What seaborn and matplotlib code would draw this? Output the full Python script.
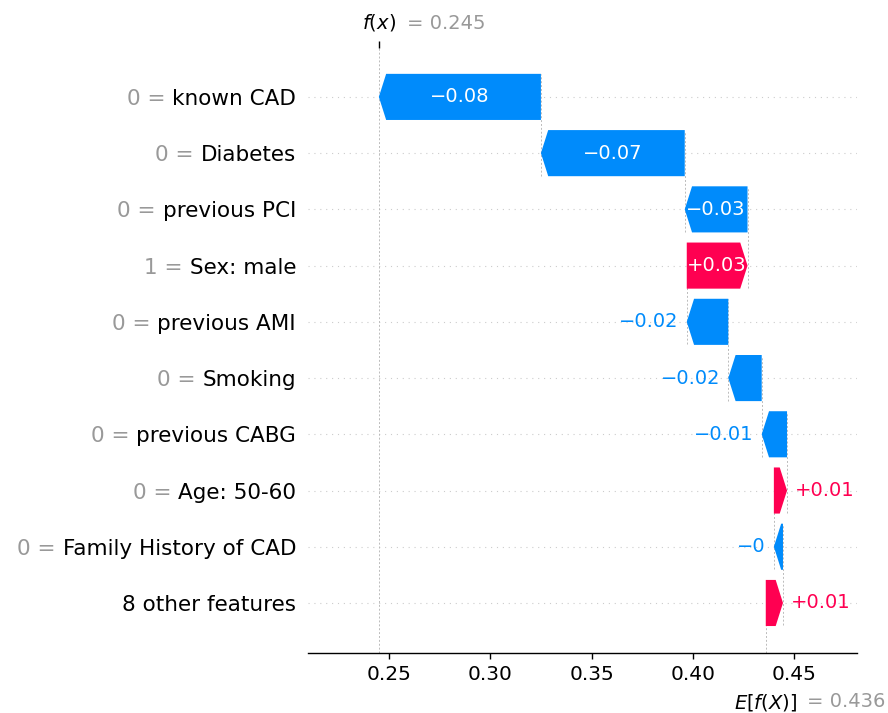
import matplotlib
matplotlib.use("Agg")
import matplotlib.pyplot as plt
import numpy as np
import seaborn as sns

# %% data (top row first)
features = [
    "known CAD",
    "Diabetes",
    "previous PCI",
    "Sex: male",
    "previous AMI",
    "Smoking",
    "previous CABG",
    "Age: 50-60",
    "Family History of CAD",
    "8 other features",
]
feature_values = ["0", "0", "0", "1", "0", "0", "0", "0", "0", None]
shap_values = [-0.080, -0.071, -0.031, 0.030, -0.0205, -0.0165, -0.0125, 0.0065, -0.0045, 0.0085]
base_value = 0.436
xticks = [0.25, 0.30, 0.35, 0.40, 0.45]

blue = "#008bfb"
red = "#ff0051"
gray = "#999999"


def fmt(v):
    s = "%+0.02f" % v
    s = s.rstrip("0").rstrip(".")
    return s.replace("-", "\u2212")


# %% plot
sns.set_theme(style="white", font="DejaVu Sans")

fig = plt.figure(figsize=(8.88, 7.13), dpi=100)
ax = fig.add_axes([0.3468, 0.0842, 0.965 - 0.3468, 0.9327 - 0.0842])
ax.set_xlim(0.210, 0.481)
ax.set_ylim(-0.889, 9.87)

n = len(features)
vals = np.array(shap_values)
rows = np.arange(n)[::-1]
starts = np.array([base_value + vals[i + 1:].sum() for i in range(n)])
fx = base_value + vals.sum()

# head length in data units
ax_w_in = ax.get_window_extent().width / fig.dpi
xlen = ax.get_xlim()[1] - ax.get_xlim()[0]
to_data = xlen / ax_w_in
hl = 0.073 * to_data
bar_w = 0.82

# row guide lines
for y in rows:
    ax.axhline(y, color="#cccccc", lw=0.8, dashes=(1, 4.3), zorder=-1)

# connector lines
for i in range(n - 1):
    ax.plot([starts[i], starts[i]], [rows[i + 1] - 0.4, rows[i] + 0.4],
            color="#bbbbbb", lw=0.7, linestyle=(0, (2, 2)), zorder=-1)
ax.plot([base_value, base_value], [ax.get_ylim()[0], rows[-1] + 0.4],
        color="#bbbbbb", lw=0.7, linestyle=(0, (2, 2)), zorder=-1)
ax.axvline(fx, 0, 1, color="#bbbbbb", lw=0.7, linestyle=(0, (2, 2)), zorder=-1)

renderer = fig.canvas.get_renderer()
for i, v in enumerate(vals):
    y = rows[i]
    dist = abs(v)
    color = red if v > 0 else blue
    sgn = 1 if v > 0 else -1
    arr = ax.arrow(starts[i], y, sgn * max(dist - hl, 1e-6), 0,
                   head_length=min(dist, hl), width=bar_w, head_width=bar_w,
                   color=color, linewidth=0, zorder=2)
    txt = ax.text(starts[i] + v / 2, y, fmt(v), ha="center", va="center",
                  color="white", fontsize=14, zorder=3)
    if txt.get_window_extent(renderer).width > arr.get_window_extent(renderer).width:
        txt.remove()
        tip = starts[i] + v
        ax.annotate(fmt(v), xy=(tip, y), xytext=(6 * sgn, 0), textcoords="offset points",
                    ha="left" if v > 0 else "right", va="center",
                    color=color, fontsize=14)

# x axis
ax.set_xticks(xticks)
ax.set_xticklabels(["%.2f" % t for t in xticks])
ax.tick_params(axis="x", bottom=True, length=4.5, width=1, color="black",
               labelsize=14.5, labelcolor="black", pad=4)

for s in ["top", "right", "left"]:
    ax.spines[s].set_visible(False)
ax.spines["bottom"].set_color("black")
ax.spines["bottom"].set_linewidth(1)

# f(x) tick at the top
ax3 = ax.twiny()
ax3.set_xlim(ax.get_xlim())
ax3.set_xticks([fx])
ax3.set_xticklabels([""])
ax3.tick_params(axis="x", top=True, bottom=False, length=5, width=1, color="black")
ax3.tick_params(axis="y", left=False, right=False, labelleft=False, labelright=False)
for s in ax3.spines.values():
    s.set_visible(False)

# y labels: black feature names, gray "value =" just left of them
label_size = 15.5
ax.set_yticks(rows)
ax.set_yticklabels(features)
ax.tick_params(axis="y", left=True, length=0, pad=8.6, labelsize=label_size,
               labelleft=True, labelcolor="black")
fig.canvas.draw()
inv = fig.transFigure.inverted()
for lab, fv, y in zip(ax.get_yticklabels(), feature_values, rows):
    if fv is None:
        continue
    x0 = inv.transform(lab.get_window_extent(renderer))[0][0]
    ax.annotate(f"{fv} =", xy=(x0, y), xycoords=(fig.transFigure, "data"),
                xytext=(-0.318 * label_size, 0), textcoords="offset points",
                ha="right", va="center_baseline", fontsize=label_size, color=gray,
                annotation_clip=False)

ax.annotate("$f(x)$", xy=(fx, 1), xycoords=("data", "axes fraction"),
            xytext=(0, 11), textcoords="offset points",
            ha="center", va="bottom", fontsize=14, color="black")
ax.annotate("= %0.3f" % fx, xy=(fx, 1), xycoords=("data", "axes fraction"),
            xytext=(20, 11), textcoords="offset points",
            ha="left", va="bottom", fontsize=14, color=gray)

ax.annotate("$E[f(X)]$", xy=(base_value, 0), xycoords=("data", "axes fraction"),
            xytext=(0, -28), textcoords="offset points",
            ha="center", va="top", fontsize=14, color="black")
ax.annotate("= %0.3f" % base_value, xy=(base_value, 0), xycoords=("data", "axes fraction"),
            xytext=(30, -28), textcoords="offset points",
            ha="left", va="top", fontsize=14, color=gray)

fig.savefig("out.png", dpi=100)
